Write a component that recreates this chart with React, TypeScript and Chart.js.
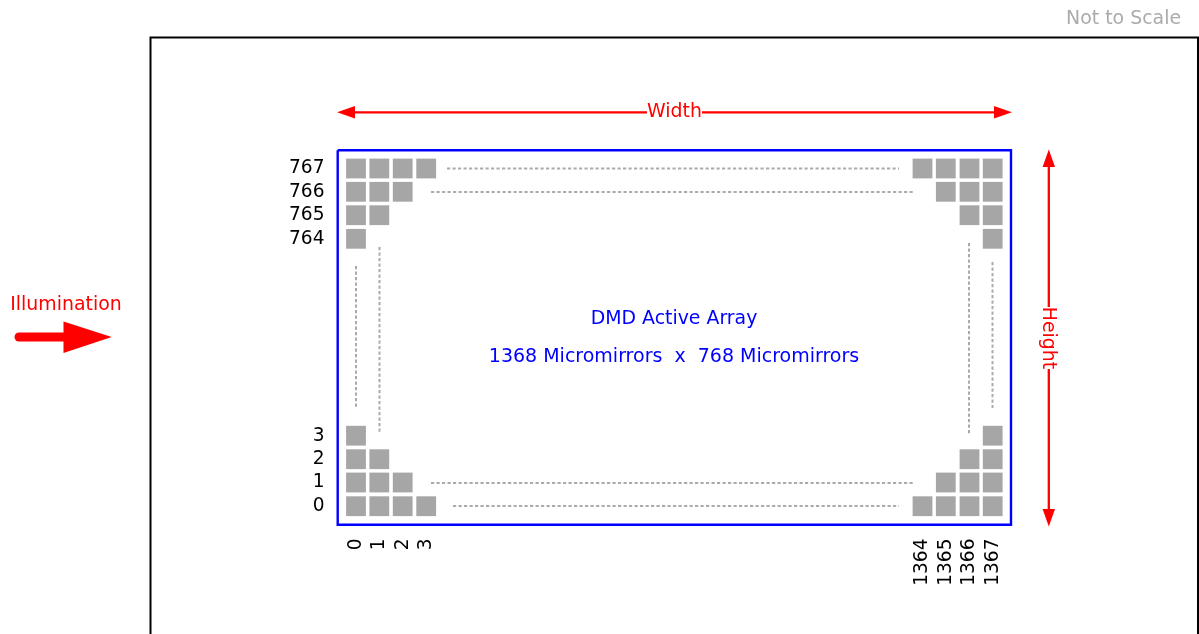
import React, { useEffect, useRef } from "react";
import { Chart, registerables } from "chart.js";

Chart.register(...registerables);

// Diagram space: one unit is one pixel of the drawing area.
const columnLabels = ["0", "1", "2", "3", "1364", "1365", "1366", "1367"];
const columnCenters = [356, 379.3, 402.7, 426.2, 922.5, 945.8, 969.5, 992.7];
const rowLabels = ["767", "766", "765", "764", "3", "2", "1", "0"];
const rowCenters = [168.5, 191.8, 215.2, 238.8, 435.7, 459.2, 482.5, 506.2];
// mirrors drawn in each row, on each side of the array
const mirrorsPerRow = [4, 3, 2, 1, 1, 2, 3, 4];

const dottedRows: number[][] = [
  [447, 899, 168.5],
  [431, 915, 192],
  [431, 915, 483],
  [453, 899, 506],
];
const dottedColumns: number[][] = [
  [356, 266, 408],
  [379.5, 247, 432],
  [969, 243, 434],
  [992.5, 262, 408],
];

const outerFrame = [
  { x: 150.5, y: 640 },
  { x: 150.5, y: 37.5 },
  { x: 1198, y: 37.5 },
  { x: 1198, y: 640 },
];
const arrayFrame = [
  { x: 337.7, y: 150.3 },
  { x: 1011, y: 150.3 },
  { x: 1011, y: 524.7 },
  { x: 337.7, y: 524.7 },
  { x: 337.7, y: 150.3 },
];

const redLines = [
  [{ x: 350, y: 112.3 }, { x: 647, y: 112.3 }],
  [{ x: 702, y: 112.3 }, { x: 1000, y: 112.3 }],
  [{ x: 1048.8, y: 160 }, { x: 1048.8, y: 307 }],
  [{ x: 1048.8, y: 369 }, { x: 1048.8, y: 515 }],
];
const illuminationShaft = [{ x: 19, y: 337 }, { x: 70, y: 337 }];

const arrowHeads: number[][][] = [
  [[337, 112.3], [355, 106], [355, 118.6]],
  [[1012, 112.3], [994, 106], [994, 118.6]],
  [[1048.8, 149.5], [1042.6, 167], [1055, 167]],
  [[1048.8, 526.5], [1042.6, 509], [1055, 509]],
  [[111.7, 337], [63.5, 321.5], [63.5, 353]],
];

const FONT = '"DejaVu Sans", Verdana, sans-serif';
const RED = "#ff0000";
const BLUE = "#0000ff";
const GREY = "#a6a6a6";

const captions = [
  { text: "Not to Scale", x: 1181, y: 19, color: "#ababab", align: "right", rot: 0, size: 18.9 },
  { text: "Width", x: 674.5, y: 112.5, color: RED, align: "center", rot: 0, size: 18.9 },
  { text: "Height", x: 1048, y: 338, color: RED, align: "center", rot: Math.PI / 2, size: 18.9 },
  { text: "Illumination", x: 66, y: 305, color: RED, align: "center", rot: 0, size: 18.9 },
  { text: "DMD Active Array", x: 674, y: 319, color: BLUE, align: "center", rot: 0, size: 18.9 },
  { text: "1368 Micromirrors  x  768 Micromirrors", x: 674, y: 357, color: BLUE, align: "center", rot: 0, size: 19 },
];

const cellPoints = rowCenters.flatMap((y, r) => {
  const n = mirrorsPerRow[r];
  const left = columnCenters.slice(0, n);
  const right = columnCenters.slice(columnCenters.length - n);
  return [...left, ...right].map((x) => ({ x, y }));
});

const annotate = {
  id: "annotate",
  afterDatasetsDraw(chart: any) {
    const { ctx, scales } = chart;
    const px = (v: number) => scales.x.getPixelForValue(v);
    const py = (v: number) => scales.y.getPixelForValue(v);
    ctx.save();
    ctx.fillStyle = RED;
    arrowHeads.forEach((tri) => {
      ctx.beginPath();
      tri.forEach(([x, y], i) => (i ? ctx.lineTo(px(x), py(y)) : ctx.moveTo(px(x), py(y))));
      ctx.closePath();
      ctx.fill();
    });
    const drawText = (t: string, x: number, y: number, color: string, align: string, rot: number, size: number) => {
      ctx.save();
      ctx.translate(px(x), py(y));
      ctx.rotate(rot);
      ctx.font = `${size}px ${FONT}`;
      ctx.fillStyle = color;
      ctx.textAlign = align;
      ctx.textBaseline = "middle";
      ctx.fillText(t, 0, 0);
      ctx.restore();
    };
    captions.forEach((c) => drawText(c.text, c.x, c.y, c.color, c.align, c.rot, c.size));
    rowLabels.forEach((t, i) => drawText(t, 324.5, rowCenters[i], "#000000", "right", 0, 18.6));
    columnLabels.forEach((t, i) => drawText(t, columnCenters[i], 538.5, "#000000", "right", -Math.PI / 2, 18.6));
    ctx.restore();
  },
};

export default function App() {
  const ref = useRef<HTMLCanvasElement>(null);
  useEffect(() => {
    const line = (data: any[], color: string, width: number, extra: any = {}) => ({
      type: "line",
      data,
      borderColor: color,
      borderWidth: width,
      pointRadius: 0,
      tension: 0,
      fill: false,
      ...extra,
    });
    const dash = { borderDash: [3.2, 2.3] };
    const datasets: any[] = [
      line(outerFrame, "#000000", 2, { clip: false }),
      line(arrayFrame, BLUE, 2.4),
      ...dottedRows.map(([a, b, y]) => line([{ x: a, y }, { x: b, y }], "#ababab", 2, dash)),
      ...dottedColumns.map(([x, a, b]) => line([{ x, y: a }, { x, y: b }], "#ababab", 2, dash)),
      ...redLines.map((l) => line(l, RED, 2.3)),
      line(illuminationShaft, RED, 9, { borderCapStyle: "round" }),
      {
        type: "scatter",
        data: cellPoints,
        pointStyle: "rect",
        pointRadius: 14,
        pointBorderWidth: 0,
        pointBackgroundColor: GREY,
        backgroundColor: GREY,
      },
    ];
    const chart = new Chart(ref.current!, {
      type: "scatter",
      data: { datasets },
      plugins: [annotate],
      options: {
        responsive: false,
        animation: false,
        layout: { padding: 0, autoPadding: false },
        plugins: { legend: { display: false }, tooltip: { enabled: false } },
        scales: {
          x: { type: "linear", min: 0, max: 1199, display: false },
          y: { type: "linear", min: 0, max: 634, reverse: true, display: false },
        },
      },
    } as any);
    return () => chart.destroy();
  }, []);
  return (
    <div style={{ position: "absolute", left: 0, top: 0, width: 1199, height: 634, background: "#ffffff" }}>
      <canvas ref={ref} width={1199} height={634} style={{ display: "block" }} />
    </div>
  );
}
